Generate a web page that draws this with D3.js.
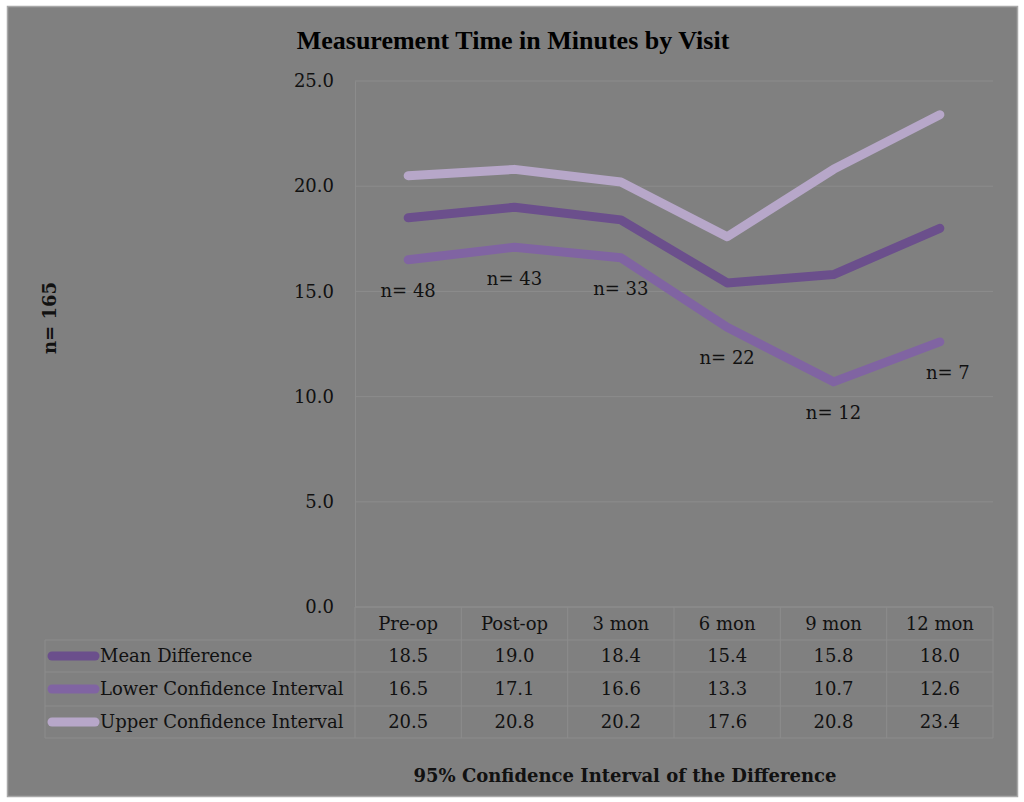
<!DOCTYPE html>
<html><head><meta charset="utf-8">
<script src="https://cdn.jsdelivr.net/npm/d3@7"></script>
<style>body{margin:0;background:#fff}svg{display:block}</style>
</head><body>
<svg id="c" width="1024" height="802"></svg>
<script>
const categories = ["Pre-op","Post-op","3 mon","6 mon","9 mon","12 mon"];
const seriesNames = ["Mean Difference","Lower Confidence Interval","Upper Confidence Interval"];
const meanDiff = [18.5,19.0,18.4,15.4,15.8,18.0];
const lowerCI = [16.5,17.1,16.6,13.3,10.7,12.6];
const upperCI = [20.5,20.8,20.2,17.6,20.8,23.4];
const nLabels = ["n= 48","n= 43","n= 33","n= 22","n= 12","n= 7"];
const yTicks = [0,5,10,15,20,25];
const colors = ["#6b4f8c","#8064a2","#b7a7c9"];
const series = [meanDiff, lowerCI, upperCI];

(function(){
const svg = d3.select("#c");
const serif = "'DejaVu Serif', serif";
const fs = 18;
svg.append("rect").attr("x",7.5).attr("y",6.5).attr("width",1010).attr("height",790)
  .attr("fill","#808080").attr("stroke","#a8a8a8").attr("stroke-width",1.5);

const pL=355,pR=993,pT=81,pB=607;
const x = d3.scaleBand().domain(categories).range([pL,pR]);
const y = d3.scaleLinear().domain([0,25]).range([pB,pT]);
const gridC="#8c8c8c";

svg.append("g").selectAll("line").data(yTicks).join("line")
  .attr("x1",pL).attr("x2",pR).attr("y1",d=>y(d)).attr("y2",d=>y(d))
  .attr("stroke",gridC).attr("stroke-width",1);
const yAxis = svg.append("g").attr("transform",`translate(${pL},0)`)
  .call(d3.axisLeft(y).tickValues(yTicks).tickFormat(d3.format(".1f")).tickSize(0).tickPadding(21));
yAxis.select(".domain").attr("stroke",gridC);
yAxis.selectAll("text").attr("font-family",serif).attr("font-size",fs).attr("fill","#111");

const rowH=[607,640,672,706,738];
const tbl = svg.append("g").attr("stroke",gridC).attr("stroke-width",1);
rowH.forEach((yy,i)=>{
  tbl.append("line").attr("x1",i===0?pL:45).attr("x2",pR).attr("y1",yy).attr("y2",yy);
});
const colEdges = categories.map(c=>x(c)).concat([pR]);
colEdges.forEach(xx=>tbl.append("line").attr("x1",xx).attr("x2",xx).attr("y1",607).attr("y2",738));
tbl.append("line").attr("x1",45).attr("x2",45).attr("y1",640).attr("y2",738);

svg.append("g").selectAll("text").data(categories).join("text")
  .attr("x",d=>x(d)+x.bandwidth()/2).attr("y",(rowH[0]+rowH[1])/2).attr("dy","0.35em")
  .attr("text-anchor","middle").attr("font-family",serif).attr("font-size",fs).attr("fill","#111").text(d=>d);
series.forEach((s,i)=>{
  const cy=(rowH[i+1]+rowH[i+2])/2;
  svg.append("line").attr("x1",52).attr("x2",95).attr("y1",cy).attr("y2",cy)
    .attr("stroke",colors[i]).attr("stroke-width",9).attr("stroke-linecap","round");
  svg.append("text").attr("x",100).attr("y",cy).attr("dy","0.35em").attr("font-family",serif)
    .attr("font-size",fs).attr("fill","#111").text(seriesNames[i]);
  svg.append("g").selectAll("text").data(s).join("text")
    .attr("x",(d,j)=>x(categories[j])+x.bandwidth()/2).attr("y",cy).attr("dy","0.35em")
    .attr("text-anchor","middle").attr("font-family",serif).attr("font-size",fs).attr("fill","#111")
    .text(d=>d3.format(".1f")(d));
});

const line = d3.line().x((d,j)=>x(categories[j])+x.bandwidth()/2).y(d=>y(d));
[2,0,1].forEach(i=>{
  svg.append("path").datum(series[i]).attr("d",line).attr("fill","none")
    .attr("stroke",colors[i]).attr("stroke-width",9).attr("stroke-linecap","round").attr("stroke-linejoin","round");
});
svg.append("g").selectAll("text").data(lowerCI).join("text")
  .attr("x",(d,j)=>x(categories[j])+x.bandwidth()/2 + (j===5?8:0)).attr("y",d=>y(d)+31).attr("dy","0.35em")
  .attr("text-anchor","middle").attr("font-family",serif).attr("font-size",fs).attr("fill","#111")
  .text((d,j)=>nLabels[j]);

svg.append("text").attr("x",513).attr("y",40).attr("dy","0.35em").attr("text-anchor","middle")
  .attr("font-family","'Liberation Serif', serif").attr("font-weight","bold").attr("font-size",26).attr("fill","#000")
  .text("Measurement Time in Minutes by Visit");
svg.append("text").attr("x",625).attr("y",776).attr("dy","0.35em").attr("text-anchor","middle")
  .attr("font-family",serif).attr("font-weight","bold").attr("font-size",fs).attr("fill","#111")
  .text("95% Confidence Interval of the Difference");
svg.append("text").attr("transform","translate(50,318) rotate(-90)").attr("dy","0.35em").attr("text-anchor","middle")
  .attr("font-family",serif).attr("font-weight","bold").attr("font-size",fs).attr("fill","#111")
  .text("n= 165");
})();
</script>
</body></html>
